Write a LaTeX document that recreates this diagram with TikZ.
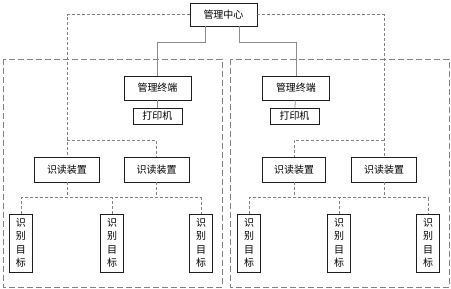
\documentclass[tikz,border=0pt]{standalone}
\usepackage{fontspec}
\newfontfamily\cjk{Noto Sans CJK SC}
\usepackage{tikz}
\usetikzlibrary{positioning}
\definecolor{boxblack}{RGB}{30,30,30}
\definecolor{linegray}{RGB}{140,140,140}
\definecolor{dashgray}{RGB}{130,130,130}

\begin{document}
\begin{tikzpicture}[x=1pt, y=-1pt,
  box/.style={draw=boxblack, line width=0.9pt, inner sep=0pt,
              font=\cjk\fontsize{10}{11}\selectfont},
  tagbox/.style={box, minimum width=23pt, minimum height=58pt, align=center,
                 font=\cjk\fontsize{10}{13.5}\selectfont},
  solidline/.style={draw=linegray, line width=0.8pt},
  dashline/.style={draw=dashgray, line width=0.7pt, dash pattern=on 3pt off 2pt},
  areabox/.style={draw=dashgray, line width=0.7pt, dash pattern=on 6pt off 3pt}]

\useasboundingbox (0,0) rectangle (451,289);

% === Two areas ===
\draw[areabox] (3,59) rectangle (222,287);
\draw[areabox] (230,59) rectangle (449,287);

% === Top: management centre ===
\node[box, minimum width=67pt, minimum height=23pt] (ctr) at (223.5,14.5) {管理中心};

% Terminals and printers
\node[box, minimum width=67pt, minimum height=24pt] (term1) at (157.5,88) {管理终端};
\node[box, minimum width=67pt, minimum height=24pt] (term2) at (296,88) {管理终端};
\node[box, minimum width=49pt, minimum height=16pt] (prn1) at (157.5,116) {打印机};
\node[box, minimum width=49pt, minimum height=16pt] (prn2) at (294.5,116) {打印机};

% Readers
\node[box, minimum width=65pt, minimum height=25pt] (rd1) at (67,169.5) {识读装置};
\node[box, minimum width=65pt, minimum height=25pt] (rd2) at (156.5,169.5) {识读装置};
\node[box, minimum width=63pt, minimum height=25pt] (rd3) at (294,169.5) {识读装置};
\node[box, minimum width=65pt, minimum height=25pt] (rd4) at (384,169.5) {识读装置};

% Targets
\node[tagbox] (tg1) at (21,243) {识\\别\\目\\标};
\node[tagbox] (tg2) at (112,243) {识\\别\\目\\标};
\node[tagbox] (tg3) at (201,243) {识\\别\\目\\标};
\node[tagbox] (tg4) at (249,243) {识\\别\\目\\标};
\node[tagbox] (tg5) at (339,243) {识\\别\\目\\标};
\node[tagbox] (tg6) at (428,243) {识\\别\\目\\标};

% === Solid links ===
\draw[solidline] ([xshift=-18pt]ctr.south) -- ++(0,16) -| (term1.north);
\draw[solidline] ([xshift=15.5pt]ctr.south) -- ++(0,16) -| (term2.north);
\draw[solidline] (term1) -- (prn1);
\draw[solidline] (term2) -- (prn2);

% === Dashed links ===
\coordinate (busL) at (rd1.north |- 0,140);
\coordinate (busR) at (rd3.north |- 0,140);
\draw[dashline] (ctr.west) -| (rd1.north);
\draw[dashline] (busL) -| (rd2.north);
\draw[dashline] (ctr.east) -| (rd4.north);
\draw[dashline] (rd4.north |- busR) -| (rd3.north);

% readers to targets
\draw[dashline] (tg1.north) -- ++(0,-16) -| (tg3.north);
\draw[dashline] (tg2.north) -- ++(0,-16);
\draw[dashline] (rd1.south) -- ++(0,16);
\draw[dashline] (rd2.south) -- ++(0,16);
\draw[dashline] (tg4.north) -- ++(0,-16) -| (tg6.north);
\draw[dashline] (tg5.north) -- ++(0,-16);
\draw[dashline] (rd3.south) -- ++(0,16);
\draw[dashline] (rd4.south) -- ++(0,16);

\end{tikzpicture}
\end{document}
